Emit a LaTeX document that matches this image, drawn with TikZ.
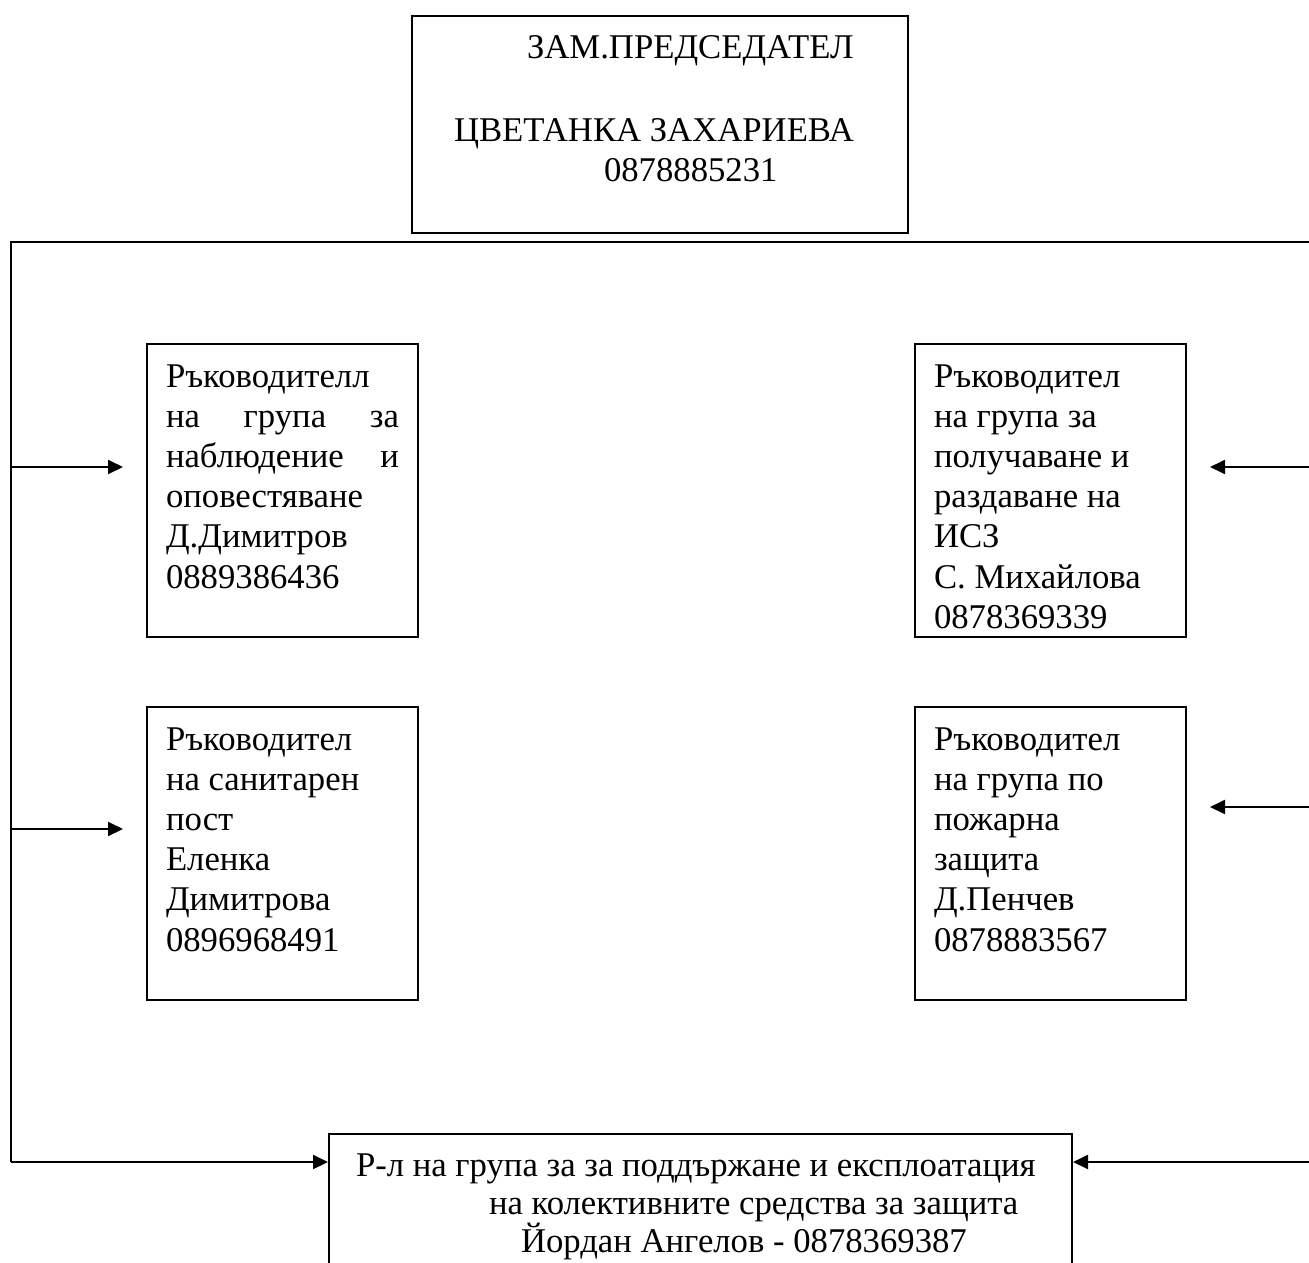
\documentclass[tikz,border=0pt]{standalone}
\usepackage{fontspec}
\setmainfont{Liberation Serif}
\usetikzlibrary{positioning, arrows.meta}
\tikzset{
   framebox/.style={
     draw=black, line width=1pt, inner sep=0pt, anchor=north west
   },
   headbox/.style={
      framebox,
      font=\fontsize{17.35pt}{20pt}\selectfont
   },
   groupbox/.style={
      framebox,
      inner xsep=9.5pt
   },
   basebox/.style={
      framebox,
      font=\fontsize{17.35pt}{19pt}\selectfont
   },
   wireline/.style={line width=1pt},
   feedline/.style={wireline, -{Triangle[length=7.5pt,width=7pt]}}
}
% fixed size text block, first baseline 21.5pt below the top
\newcommand{\cellbody}[3]{\parbox[c][#2][t]{#1}{\rule{0pt}{21.5pt}#3}}

\begin{document}
\begin{tikzpicture}[x=0.5pt, y=-0.5pt, node distance=34pt and 247.5pt,
   font=\fontsize{17.35pt}{20.1pt}\selectfont]
      \path[clip] (0,0) rectangle (1309,1262);

      \node[headbox](deputy) at (411,15) {\cellbody{248pt}{108.5pt}{%
         \hspace*{57.5pt}ЗАМ.ПРЕДСЕДАТЕЛ\\[21.5pt]
         \hspace*{21pt}ЦВЕТАНКА ЗАХАРИЕВА\\
         \hspace*{96pt}0878885231}};

      \node[groupbox](watch) at (146,343) {\cellbody{116.5pt}{146.5pt}{%
         Ръководителл\\
         на\hfill група\hfill за\\
         наблюдение\hfill и\\
         оповестяване\\
         Д.Димитров\\
         0889386436}};
      \node[groupbox](medic) [below = of watch] {\cellbody{116.5pt}{146.5pt}{%
         Ръководител\\
         на санитарен\\
         пост\\
         Еленка\\
         Димитрова\\
         0896968491}};

      \node[groupbox](supply) [right = of watch] {\cellbody{116.5pt}{146.5pt}{%
         Ръководител\\
         на група за\\
         получаване и\\
         раздаване на\\
         ИСЗ\\
         С. Михайлова\\
         0878369339}};
      \node[groupbox](fire) [below = of supply] {\cellbody{116.5pt}{146.5pt}{%
         Ръководител\\
         на група по\\
         пожарна\\
         защита\\
         Д.Пенчев\\
         0878883567}};

      \node[basebox](shelter) at (328,1133) {\parbox[c][90pt][t]{371.5pt}{%
         \rule{0pt}{21pt}\hspace*{13.5pt}Р-л на група за за поддържане и експлоатация\\
         \hspace*{80pt}на колективните средства за защита\\
         \hspace*{96pt}Йордан Ангелов - 0878369387}};

      \coordinate (corner) at (11,242);
      \coordinate (edge) at (1309,242);
      \coordinate (foot) at (11,1162);
      \coordinate (tapA) at (11,467);
      \coordinate (tapB) at (11,829);
      \coordinate (tapC) at (1309,467);
      \coordinate (tapD) at (1309,807);
      \coordinate (tapE) at (1309,1162);

      \draw[wireline] (foot) -- (corner) -- (edge);

      \draw[feedline, shorten >=11.5pt] (tapA) -- (tapA -| watch.west);
      \draw[feedline, shorten >=11.5pt] (tapB) -- (tapB -| medic.west);
      \draw[feedline, shorten >=11.5pt] (tapC) -- (tapC -| supply.east);
      \draw[feedline, shorten >=11.5pt] (tapD) -- (tapD -| fire.east);
      \draw[feedline] (foot) -- (foot -| shelter.west);
      \draw[feedline] (tapE) -- (tapE -| shelter.east);
   \end{tikzpicture}
\end{document}
